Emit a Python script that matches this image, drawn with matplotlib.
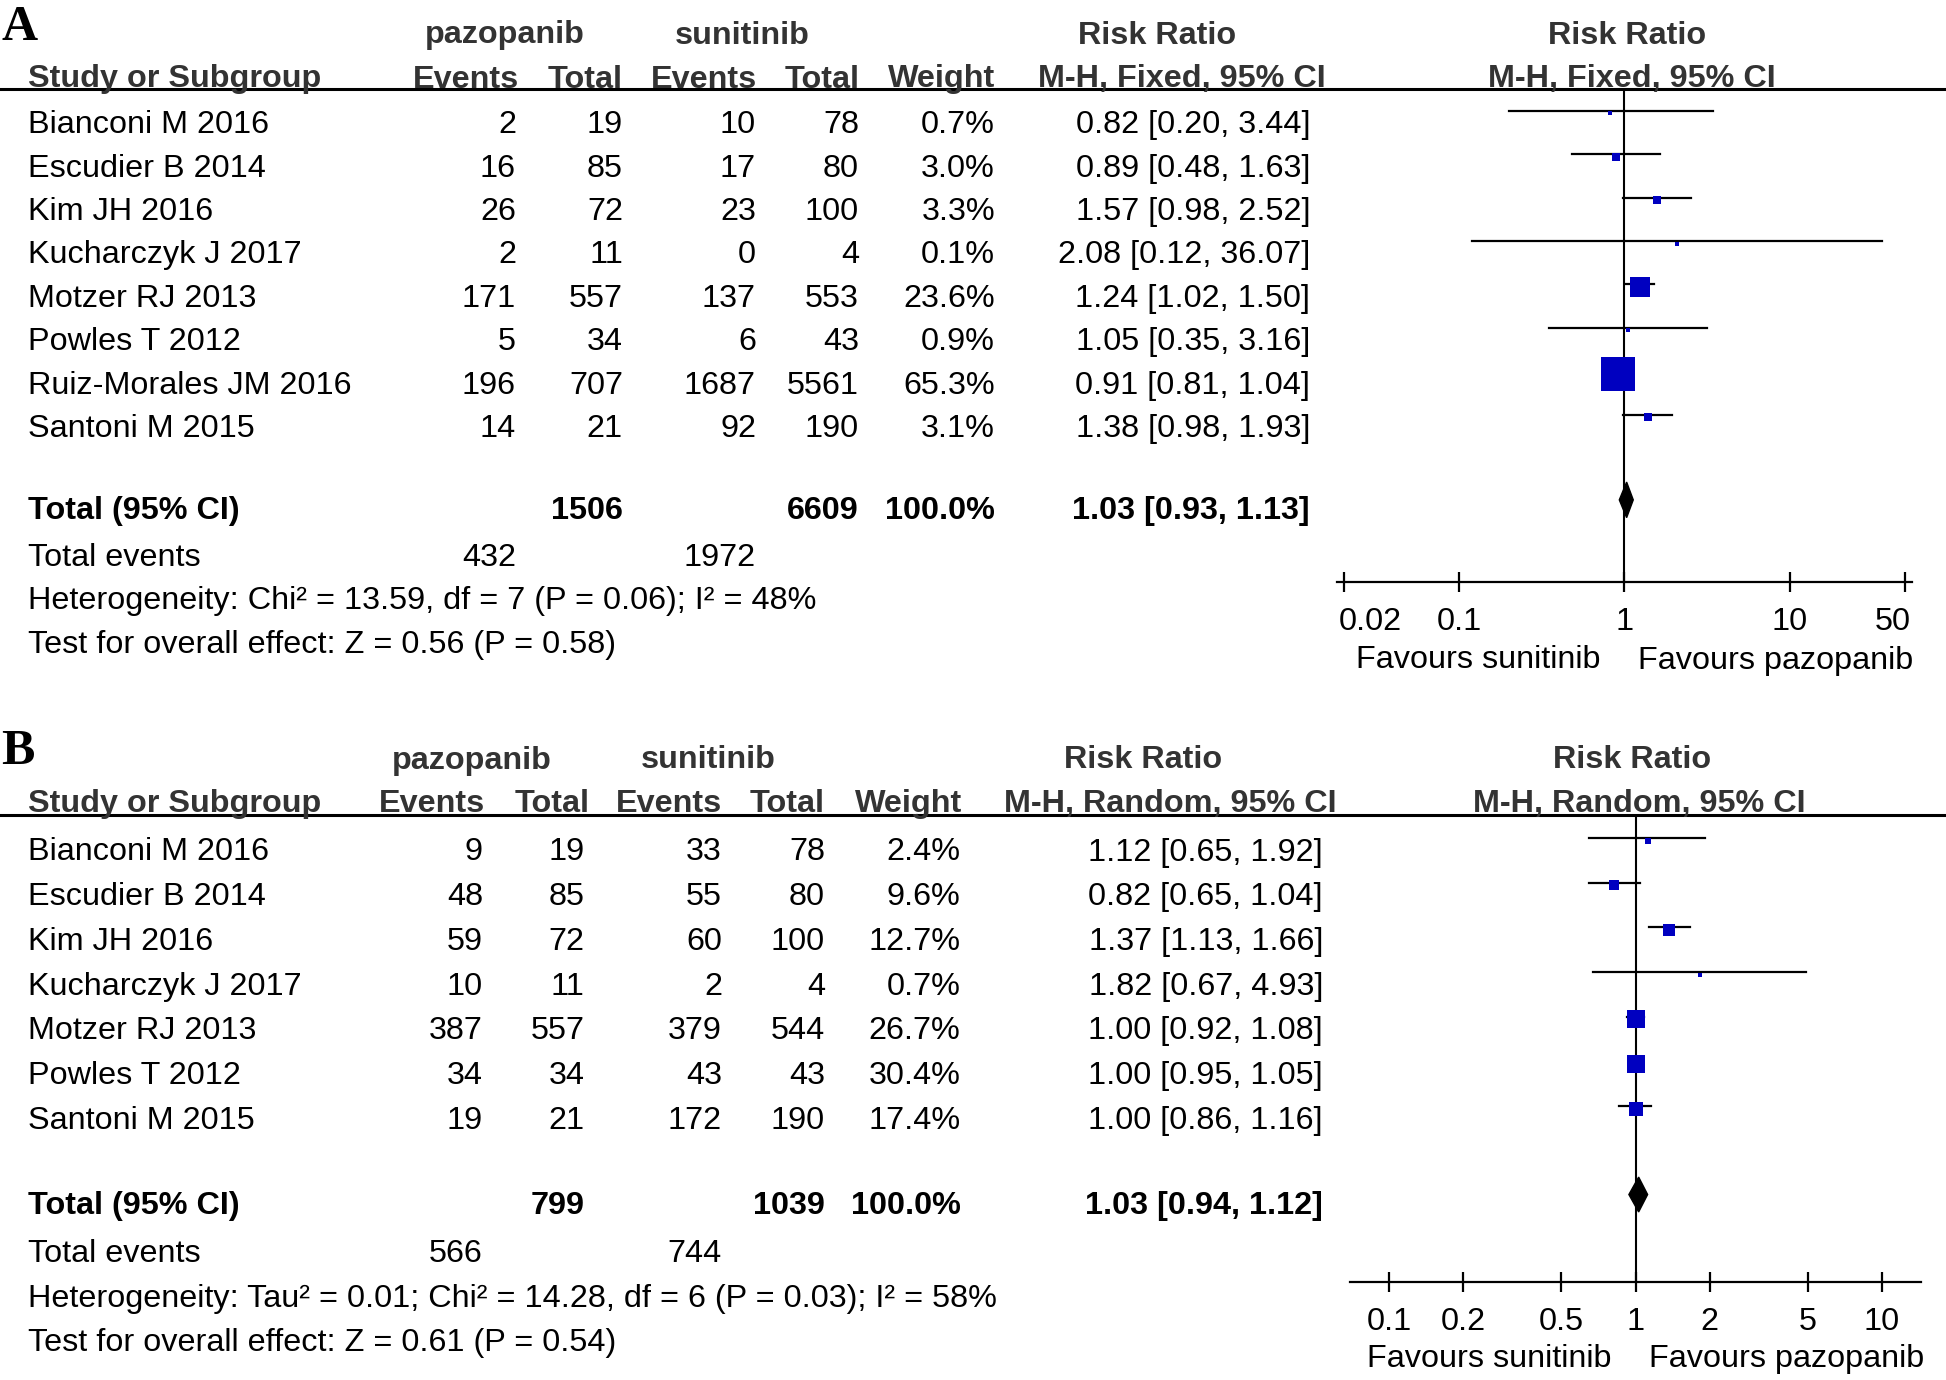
import matplotlib
matplotlib.use('Agg')
import numpy as np
import matplotlib.pyplot as plt
from matplotlib.lines import Line2D
from matplotlib.ticker import FixedLocator, FixedFormatter, NullLocator
from matplotlib.transforms import ScaledTranslation

plt.rcParams['font.family'] = ['Liberation Sans', 'DejaVu Sans']

# ---- panel A data (M-H fixed) ----
studies_a = ['Bianconi M 2016', 'Escudier B 2014', 'Kim JH 2016', 'Kucharczyk J 2017',
             'Motzer RJ 2013', 'Powles T 2012', 'Ruiz-Morales JM 2016', 'Santoni M 2015']
paz_events_a = [2, 16, 26, 2, 171, 5, 196, 14]
paz_total_a = [19, 85, 72, 11, 557, 34, 707, 21]
sun_events_a = [10, 17, 23, 0, 137, 6, 1687, 92]
sun_total_a = [78, 80, 100, 4, 553, 43, 5561, 190]
weight_a = [0.7, 3.0, 3.3, 0.1, 23.6, 0.9, 65.3, 3.1]
rr_a = [0.82, 0.89, 1.57, 2.08, 1.24, 1.05, 0.91, 1.38]
lo_a = [0.20, 0.48, 0.98, 0.12, 1.02, 0.35, 0.81, 0.98]
hi_a = [3.44, 1.63, 2.52, 36.07, 1.50, 3.16, 1.04, 1.93]
total_a = [1506, 6609, 100.0, 1.03, 0.93, 1.13]
events_a = [432, 1972]
het_a = 'Heterogeneity: Chi² = 13.59, df = 7 (P = 0.06); I² = 48%'
test_a = 'Test for overall effect: Z = 0.56 (P = 0.58)'
ticks_a = [0.02, 0.1, 1, 10, 50]
ticklabels_a = ['0.02', '0.1', '1', '10', '50']

# ---- panel B data (M-H random) ----
studies_b = ['Bianconi M 2016', 'Escudier B 2014', 'Kim JH 2016', 'Kucharczyk J 2017',
             'Motzer RJ 2013', 'Powles T 2012', 'Santoni M 2015']
paz_events_b = [9, 48, 59, 10, 387, 34, 19]
paz_total_b = [19, 85, 72, 11, 557, 34, 21]
sun_events_b = [33, 55, 60, 2, 379, 43, 172]
sun_total_b = [78, 80, 100, 4, 544, 43, 190]
weight_b = [2.4, 9.6, 12.7, 0.7, 26.7, 30.4, 17.4]
rr_b = [1.12, 0.82, 1.37, 1.82, 1.00, 1.00, 1.00]
lo_b = [0.65, 0.65, 1.13, 0.67, 0.92, 0.95, 0.86]
hi_b = [1.92, 1.04, 1.66, 4.93, 1.08, 1.05, 1.16]
total_b = [799, 1039, 100.0, 1.03, 0.94, 1.12]
events_b = [566, 744]
het_b = 'Heterogeneity: Tau² = 0.01; Chi² = 14.28, df = 6 (P = 0.03); I² = 58%'
test_b = 'Test for overall effect: Z = 0.61 (P = 0.54)'
ticks_b = [0.1, 0.2, 0.5, 1, 2, 5, 10]
ticklabels_b = ['0.1', '0.2', '0.5', '1', '2', '5', '10']

W, H = 1946, 1380
FS = 23.3
BLUE = '#0000c0'
HEAD = '#333333'

fig = plt.figure(figsize=(W / 100, H / 100), dpi=100)


def put(x, y, s, ha='left', bold=False, color='black', size=FS, family=None):
    kw = {}
    if family:
        kw['family'] = family
    fig.text(x / W, 1 - y / H, s, ha=ha, va='center_baseline', fontsize=size,
             fontweight='bold' if bold else 'normal', color=color, **kw)


def ci_str(e, l, h):
    return '%.2f [%.2f, %.2f]' % (e, l, h)


def draw_panel(lay, studies, pe, pt, se, st, wt, rr, lo, hi, tot, ev, het, test,
               method, ticks, ticklabels):
    y0, step = lay['y0'], lay['step']
    ry = lambda r: y0 + step * r

    put(1, lay['letter_y'], lay['letter'], bold=True, size=36, family='Liberation Serif')

    # headers
    h1, h2 = lay['head1'], lay['head2']
    for s, x in zip(['pazopanib', 'sunitinib', 'Risk Ratio', 'Risk Ratio'], lay['head1_x']):
        put(x, h1, s, ha='center', bold=True, color=HEAD)
    put(28, h2, 'Study or Subgroup', bold=True, color=HEAD)
    for s, x in zip(['Events', 'Total', 'Events', 'Total', 'Weight'], lay['head2_x']):
        put(x, h2, s, ha='right', bold=True, color=HEAD)
    put(lay['mh_x'][0], h2, method, ha='center', bold=True, color=HEAD)
    put(lay['mh_x'][1], h2, method, ha='center', bold=True, color=HEAD)
    fig.add_artist(Line2D([0, 1], [1 - lay['line'] / H] * 2, transform=fig.transFigure,
                          color='black', lw=2.2))

    cols = lay['cols']
    for i, name in enumerate(studies):
        y = ry(i)
        put(28, y, name)
        for x, v in zip(cols, [pe[i], pt[i], se[i], st[i]]):
            put(x, y, str(v), ha='right')
        put(cols[4], y, '%.1f%%' % wt[i], ha='right')
        put(lay['ci_x'], y, ci_str(rr[i], lo[i], hi[i]), ha='right')

    yt = ry(lay['total_row'])
    put(28, yt, 'Total (95% CI)', bold=True)
    put(cols[1], yt, str(tot[0]), ha='right', bold=True)
    put(cols[3], yt, str(tot[1]), ha='right', bold=True)
    put(cols[4], yt, '%.1f%%' % tot[2], ha='right', bold=True)
    put(lay['ci_x'], yt, ci_str(tot[3], tot[4], tot[5]), ha='right', bold=True)
    ye = ry(lay['total_row'] + 1.07)
    put(28, ye, 'Total events')
    put(cols[0], ye, str(ev[0]), ha='right')
    put(cols[2], ye, str(ev[1]), ha='right')
    put(28, ry(lay['total_row'] + 2.07), het)
    put(28, ry(lay['total_row'] + 3.07), test)

    # forest plot axes
    left, right, top, bottom = lay['forest']
    ax = fig.add_axes([left / W, 1 - bottom / H, (right - left) / W, (bottom - top) / H])
    ax.set_xscale('log')
    ax.set_xlim(10 ** -lay['span'], 10 ** lay['span'])
    ax.set_ylim((bottom - y0) / step, (top - y0) / step)
    for s in ['top', 'left', 'right']:
        ax.spines[s].set_visible(False)
    ax.spines['bottom'].set_linewidth(1.6)
    ax.set_yticks([])
    ax.xaxis.set_major_locator(FixedLocator(ticks))
    ax.xaxis.set_major_formatter(FixedFormatter(ticklabels))
    ax.xaxis.set_minor_locator(NullLocator())
    ax.tick_params(axis='x', direction='inout', length=14, width=1.6, pad=11, labelsize=FS)
    ax.axvline(1, color='black', lw=1.5, zorder=1)

    if lay['shift_ends']:
        labs = ax.get_xticklabels()
        labs[0].set_horizontalalignment('left')
        labs[0].set_transform(labs[0].get_transform() +
                              ScaledTranslation(-0.05, 0, fig.dpi_scale_trans))
        labs[-1].set_horizontalalignment('right')
        labs[-1].set_transform(labs[-1].get_transform() +
                               ScaledTranslation(0.06, 0, fig.dpi_scale_trans))

    for i in range(len(studies)):
        ax.plot([lo[i], hi[i]], [i - 0.25, i - 0.25], color='black', lw=1.6, zorder=2)
        side = max(5.0, lay['box_k'] * np.sqrt(wt[i]))
        ax.plot(rr[i], i - 0.19, marker='s', ms=side * 0.72, color=BLUE, mec=BLUE,
                mew=0, zorder=3)

    tr = lay['total_row'] - 0.18
    hh = lay['diamond_h']
    ax.fill([tot[4], tot[3], tot[5], tot[3]], [tr, tr - hh, tr, tr + hh],
            color='black', zorder=3)

    ax.annotate('Favours sunitinib', xy=(1, 0), xycoords=('data', 'axes fraction'),
                xytext=(-17, -lay['fav_dy']), textcoords='offset points',
                ha='right', va='center_baseline', fontsize=FS)
    ax.annotate('Favours pazopanib', xy=(1, 0), xycoords=('data', 'axes fraction'),
                xytext=(10, -lay['fav_dy']), textcoords='offset points',
                ha='left', va='center_baseline', fontsize=FS)


layout_a = dict(letter='A', letter_y=22, head1=32, head2=76, line=89,
                head1_x=[505, 742, 1157, 1627], head2_x=[519, 623, 757, 860, 995],
                mh_x=[1182, 1632], cols=[516, 623, 756, 859, 995], ci_x=1310,
                y0=121.6, step=43.43, total_row=8.89,
                forest=[1337, 1912, 89, 582], span=1.74, box_k=4.1, diamond_h=0.41,
                fav_dy=54, shift_ends=True)
layout_b = dict(letter='B', letter_y=747, head1=757, head2=800.5, line=815,
                head1_x=[471.6, 708.6, 1143, 1632], head2_x=[485, 589.5, 722, 825, 962],
                mh_x=[1170, 1639], cols=[483, 584.5, 722, 825, 960.5], ci_x=1323,
                y0=849, step=44.7, total_row=7.91,
                forest=[1350, 1921, 815, 1282], span=1.16, box_k=3.3, diamond_h=0.39,
                fav_dy=53, shift_ends=False)

draw_panel(layout_a, studies_a, paz_events_a, paz_total_a, sun_events_a, sun_total_a,
           weight_a, rr_a, lo_a, hi_a, total_a, events_a, het_a, test_a,
           'M-H, Fixed, 95% CI', ticks_a, ticklabels_a)
draw_panel(layout_b, studies_b, paz_events_b, paz_total_b, sun_events_b, sun_total_b,
           weight_b, rr_b, lo_b, hi_b, total_b, events_b, het_b, test_b,
           'M-H, Random, 95% CI', ticks_b, ticklabels_b)

fig.savefig('out.png', dpi=100, facecolor='white')
